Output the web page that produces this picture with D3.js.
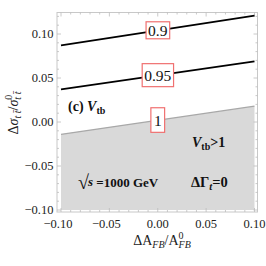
<!DOCTYPE html>
<html>
<head>
<meta charset="utf-8">
<script src="https://cdn.jsdelivr.net/npm/d3@7"></script>
<style>
  html, body { margin: 0; padding: 0; background: #fff; }
  svg { display: block; font-family: "Liberation Serif", "DejaVu Serif", serif; }
</style>
</head>
<body>
<div id="chart"></div>
<script>
// datos
const xDomain = [-0.1, 0.1];
const yDomain = [-0.1, 0.1];
const xTicks = [-0.1, -0.05, 0, 0.05, 0.1];
const yTicks = [-0.1, -0.05, 0, 0.05, 0.1];
const contourLabels = ['0.9', '0.95', '1'];
const contourAtLeft = [0.087, 0.037, -0.014];   // valor en x = -0.10
const contourAtRight = [0.121, 0.069, 0.018];   // valor en x = 0.10
const labelAtX = 0;

const width = 266, height = 266;
const svg = d3.select('#chart').append('svg')
  .attr('width', width).attr('height', height);

const x = d3.scaleLinear().domain(xDomain).range([61, 254.5]);
const y = d3.scaleLinear().domain(yDomain).range([210, 34]);

const frame = { x0: 57, x1: 257.5, y0: 12.5, y1: 212 };

// region sombreada V_tb > 1
const bnd = [
  { x: xDomain[0], y: contourAtLeft[2] },
  { x: xDomain[1], y: contourAtRight[2] }
];
const area = d3.area().x((d) => x(d.x)).y0(y(yDomain[0])).y1((d) => y(d.y));
svg.append('path').datum(bnd).attr('d', area).attr('fill', '#d9d9d9');

// marco
svg.append('rect')
  .attr('x', frame.x0).attr('y', frame.y0)
  .attr('width', frame.x1 - frame.x0).attr('height', frame.y1 - frame.y0)
  .attr('fill', 'none').attr('stroke', '#c8c8c8').attr('stroke-width', 1);

// ticks hacia dentro (mayores y menores)
const tickColor = '#bdbdbd';
const minorX = d3.range(-0.1, 0.1001, 0.01);
const minorY = d3.range(-0.1, 0.121, 0.01);
minorX.forEach((v) => {
  const major = xTicks.some((t) => Math.abs(t - v) < 1e-6);
  const len = major ? 4 : 2;
  svg.append('line').attr('x1', x(v)).attr('x2', x(v)).attr('y1', frame.y1).attr('y2', frame.y1 - len)
    .attr('stroke', tickColor).attr('stroke-width', 0.8);
  svg.append('line').attr('x1', x(v)).attr('x2', x(v)).attr('y1', frame.y0).attr('y2', frame.y0 + len)
    .attr('stroke', tickColor).attr('stroke-width', 0.8);
});
minorY.forEach((v) => {
  const major = yTicks.some((t) => Math.abs(t - v) < 1e-6);
  const len = major ? 4 : 2;
  svg.append('line').attr('y1', y(v)).attr('y2', y(v)).attr('x1', frame.x0).attr('x2', frame.x0 + len)
    .attr('stroke', tickColor).attr('stroke-width', 0.8);
  svg.append('line').attr('y1', y(v)).attr('y2', y(v)).attr('x1', frame.x1).attr('x2', frame.x1 - len)
    .attr('stroke', tickColor).attr('stroke-width', 0.8);
});

const fmt = (v) => (v < 0 ? '\u2212' : '') + Math.abs(v).toFixed(2);

// etiquetas de ticks
svg.append('g').selectAll('text').data(xTicks).join('text')
  .attr('x', (d) => x(d) - (d < 0 ? 3 : 0)).attr('y', 228)
  .attr('text-anchor', 'middle').attr('font-size', 12.5).attr('fill', '#222')
  .text(fmt);
svg.append('g').selectAll('text').data(yTicks).join('text')
  .attr('x', 53.5).attr('y', (d) => y(d) + 4.3)
  .attr('text-anchor', 'end').attr('font-size', 12.5).attr('fill', '#222')
  .text(fmt);

// curvas de nivel
const lineGen = d3.line().x((d) => x(d.x)).y((d) => y(d.y));
contourLabels.forEach((lab, i) => {
  const pts = [{ x: xDomain[0], y: contourAtLeft[i] }, { x: xDomain[1], y: contourAtRight[i] }];
  const last = i === contourLabels.length - 1;
  svg.append('path').datum(pts).attr('d', lineGen)
    .attr('fill', 'none')
    .attr('stroke', last ? '#a8a8a8' : '#000')
    .attr('stroke-width', last ? 1.3 : 1.8);
});

// cajas de etiquetas
contourLabels.forEach((lab, i) => {
  const t = (labelAtX - xDomain[0]) / (xDomain[1] - xDomain[0]);
  const v = contourAtLeft[i] + t * (contourAtRight[i] - contourAtLeft[i]);
  const cxp = x(labelAtX), cyp = y(v);
  const g = svg.append('g');
  const rect = g.append('rect');
  const txt = g.append('text')
    .attr('x', cxp).attr('y', cyp + 5.3)
    .attr('text-anchor', 'middle').attr('font-size', 15.5).attr('fill', '#111')
    .text(lab);
  const bb = txt.node().getBBox();
  const padX = i === 2 ? 3 : 2;
  const padY = i === 0 ? 0 : (i === 1 ? 3 : 3.8);
  rect.attr('x', bb.x - padX).attr('y', bb.y - padY)
    .attr('width', bb.width + 2 * padX).attr('height', bb.height + 2 * padY)
    .attr('fill', '#fff').attr('stroke', '#f07070').attr('stroke-width', 1.2);
});

// textos dentro del grafico
const cLab = svg.append('text').attr('x', 68).attr('y', 111)
  .attr('font-size', 14).attr('font-weight', 'bold').attr('fill', '#111');
cLab.append('tspan').text('(c) ');
cLab.append('tspan').attr('font-style', 'italic').text('V');
cLab.append('tspan').attr('font-size', 10).attr('dy', 3).text('tb');

const vLab = svg.append('text').attr('x', 192).attr('y', 147)
  .attr('font-size', 14).attr('font-weight', 'bold').attr('fill', '#111');
vLab.append('tspan').attr('font-style', 'italic').text('V');
vLab.append('tspan').attr('font-size', 10).attr('dy', 3).text('tb');
vLab.append('tspan').attr('dy', -3).text('>1');

const sLab = svg.append('text').attr('x', 78).attr('y', 187)
  .attr('font-size', 13).attr('font-weight', 'bold').attr('fill', '#111');
sLab.append('tspan').attr('font-size', 20).attr('dy', 2).text('\u221A');
sLab.append('tspan').attr('font-style', 'italic').attr('dx', -1).attr('dy', -3).text('s');
sLab.append('tspan').attr('dy', 1).text(' =1000 GeV');

const gLab = svg.append('text').attr('x', 191).attr('y', 187)
  .attr('font-size', 14.5).attr('font-weight', 'bold').attr('fill', '#111');
gLab.append('tspan').text('\u0394\u0393');
gLab.append('tspan').attr('font-style', 'italic').attr('font-size', 10.5).attr('dy', 3).text('t');
gLab.append('tspan').attr('dy', -3).text('=0');

// titulo eje x
const xl = svg.append('text').attr('x', 162).attr('y', 245)
  .attr('text-anchor', 'middle').attr('font-size', 14).attr('fill', '#222');
xl.append('tspan').text('\u0394A');
xl.append('tspan').attr('font-style', 'italic').attr('font-size', 10).attr('dy', 3).text('FB');
xl.append('tspan').attr('dy', -3).text('/A');
xl.append('tspan').attr('font-size', 10).attr('dy', -6).text('0');
xl.append('tspan').attr('font-style', 'italic').attr('font-size', 10).attr('dx', -5).attr('dy', 9).text('FB');

// titulo eje y
const yl = svg.append('text').attr('transform', 'translate(18,113) rotate(-90)')
  .attr('text-anchor', 'middle').attr('font-size', 14).attr('fill', '#222');
yl.append('tspan').text('\u0394');
yl.append('tspan').attr('font-style', 'italic').text('\u03C3');
yl.append('tspan').attr('font-style', 'italic').attr('font-size', 10).attr('dy', 3).text('t t\u0304');
yl.append('tspan').attr('dy', -3).text('/');
yl.append('tspan').attr('font-style', 'italic').text('\u03C3');
yl.append('tspan').attr('font-size', 10).attr('dy', -6).text('0');
yl.append('tspan').attr('font-style', 'italic').attr('font-size', 10).attr('dx', -5).attr('dy', 9).text('t t\u0304');
</script>
</body>
</html>
